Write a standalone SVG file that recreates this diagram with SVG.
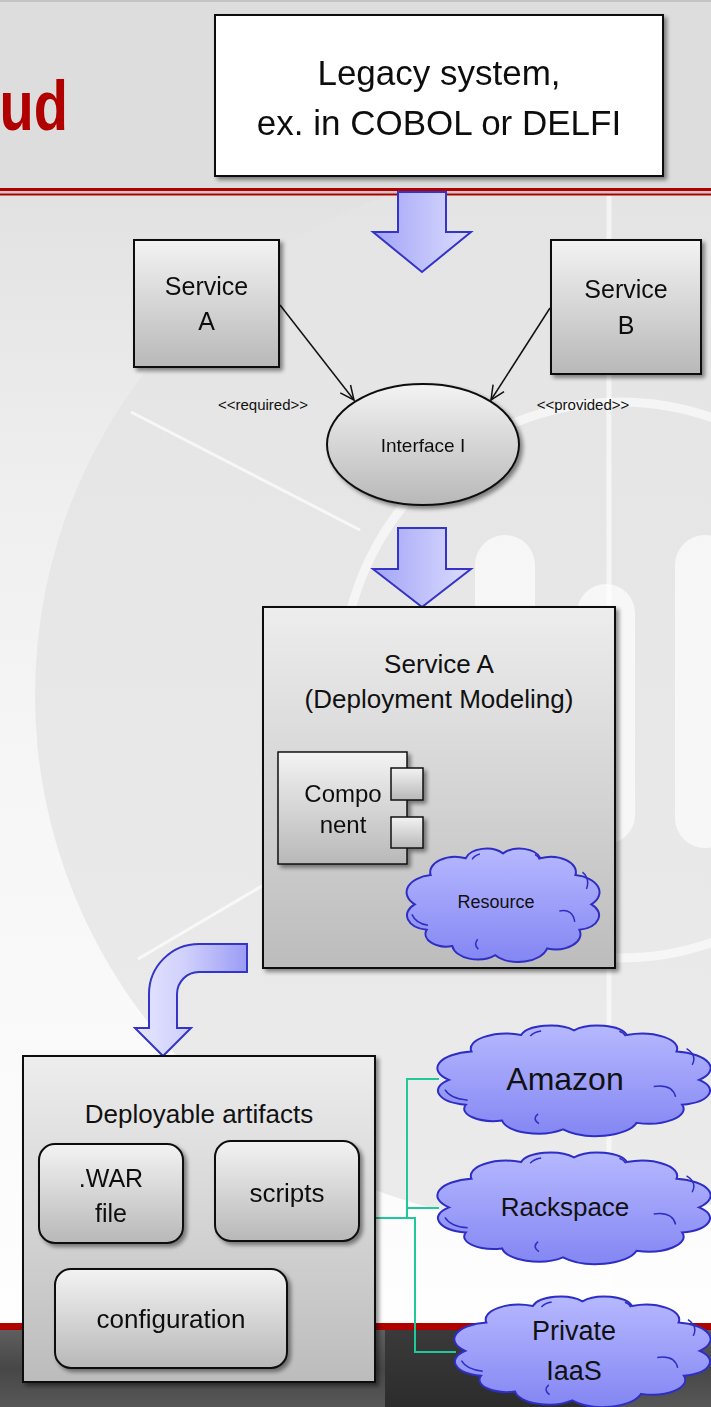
<svg xmlns="http://www.w3.org/2000/svg" width="711" height="1407" viewBox="0 0 711 1407">
  <defs>
    <style>
      .lbl { font-family: "Liberation Sans", Arial, sans-serif; fill: #111; text-anchor: middle; }
      .box { stroke: #111; stroke-width: 2; }
      .cloud { fill: url(#cloudGrad); stroke: #2e2ec4; stroke-width: 2; }
      .cloudInner { fill: none; stroke: #2e2ec4; stroke-width: 1.5; }
      .blockArrow { stroke: #3434c6; stroke-width: 2; stroke-linejoin: miter; }
      .wire { fill: none; stroke: #111; stroke-width: 1.5; }
      .teal { fill: none; stroke: #22c998; stroke-width: 2; }
      .mark { fill: #fff; opacity: 0.65; }
    </style>
    <linearGradient id="bgGrad" x1="0" y1="0" x2="0" y2="1">
      <stop offset="0" stop-color="#dcdcdc"/>
      <stop offset="0.14" stop-color="#e2e2e2"/>
      <stop offset="0.35" stop-color="#efefef"/>
      <stop offset="0.55" stop-color="#f6f6f6"/>
      <stop offset="1" stop-color="#ffffff"/>
    </linearGradient>
    <linearGradient id="ringGrad" x1="0" y1="0" x2="0" y2="1">
      <stop offset="0" stop-color="#e4e4e4"/>
      <stop offset="1" stop-color="#ebebeb"/>
    </linearGradient>
    <linearGradient id="boxGrad" x1="0" y1="0" x2="0" y2="1">
      <stop offset="0" stop-color="#f3f3f3"/>
      <stop offset="1" stop-color="#b8b8b8"/>
    </linearGradient>
    <linearGradient id="deployGrad" x1="0" y1="0" x2="0" y2="1">
      <stop offset="0" stop-color="#ededed"/>
      <stop offset="1" stop-color="#bcbcbc"/>
    </linearGradient>
    <linearGradient id="cloudGrad" x1="0" y1="0" x2="0" y2="1">
      <stop offset="0" stop-color="#b6b8ff"/>
      <stop offset="1" stop-color="#8486f3"/>
    </linearGradient>
    <linearGradient id="downGrad" x1="0" y1="0" x2="1" y2="0">
      <stop offset="0" stop-color="#a2a4f6"/>
      <stop offset="1" stop-color="#dcdcff"/>
    </linearGradient>
    <linearGradient id="bendGrad" x1="0" y1="0" x2="1" y2="0">
      <stop offset="0" stop-color="#e6e6ff"/>
      <stop offset="0.45" stop-color="#d0d0fc"/>
      <stop offset="1" stop-color="#9a9cf5"/>
    </linearGradient>
    <linearGradient id="footGrad" x1="0" y1="0" x2="0" y2="1">
      <stop offset="0" stop-color="#5e5e5e"/>
      <stop offset="0.5" stop-color="#474747"/>
      <stop offset="1" stop-color="#575757"/>
    </linearGradient>
    <linearGradient id="footDark" x1="0" y1="0" x2="0" y2="1">
      <stop offset="0" stop-color="#3a3a3a"/>
      <stop offset="1" stop-color="#2c2c2c"/>
    </linearGradient>
    <filter id="shadow" x="-10%" y="-10%" width="125%" height="125%">
      <feGaussianBlur in="SourceAlpha" stdDeviation="2"/>
      <feOffset dx="3" dy="3" result="off"/>
      <feComponentTransfer><feFuncA type="linear" slope="0.45"/></feComponentTransfer>
      <feMerge><feMergeNode/><feMergeNode in="SourceGraphic"/></feMerge>
    </filter>
    <marker id="openArrow" viewBox="0 0 16 16" refX="15" refY="8" markerWidth="16" markerHeight="16" orient="auto" markerUnits="userSpaceOnUse">
      <path d="M1,1.5 L15,8 L1,14.5" fill="none" stroke="#111" stroke-width="1.5"/>
    </marker>
    <!-- cloud outline in a unit box (extents roughly x 6.5..93.5, y 8..93) -->
    <path id="cloudShape" class="cloud" vector-effect="non-scaling-stroke" d="M10,50 A12.9,12.9 0 0 1 17.2,28.2 A11.4,11.4 0 0 1 33.1,15.6 A9.7,9.7 0 0 1 50,12 A9.7,9.7 0 0 1 66.9,15.6 A11.4,11.4 0 0 1 82.8,28.2 A12.9,12.9 0 0 1 90,50 A11.1,11.1 0 0 1 84.6,69 A11.3,11.3 0 0 1 70,82.9 A13.4,13.4 0 0 1 46.5,87.9 A11.6,11.6 0 0 1 27,81.1 A9.4,9.4 0 0 1 15.4,69 A11.1,11.1 0 0 1 10,50 Z"/>
    <path id="cloudCreases" class="cloudInner" vector-effect="non-scaling-stroke" d="M8.7,57.5 Q10.5,64.5 16,65.5 M75.5,55 Q81.5,53 82.5,63 M38.5,76 Q36.5,80 38.8,83.5 M36,16.5 Q37,13.5 39.5,12.5 M86,26 Q89.5,31 87.8,38.5 M64.5,12.8 Q66,14 66.5,16.5"/>
  </defs>

  <!-- backdrop -->
  <g id="backdrop">
    <rect x="0" y="0" width="711" height="1407" fill="url(#bgGrad)"/>
    <circle cx="565" cy="695" r="530" fill="url(#ringGrad)"/>
    <circle cx="620" cy="680" r="278" fill="none" stroke="#fff" stroke-width="9" opacity="0.6"/>
    <line x1="609" y1="196" x2="609" y2="1323" stroke="#fff" stroke-width="5" opacity="0.6"/>
    <line x1="131" y1="412" x2="360" y2="530" stroke="#fff" stroke-width="3" opacity="0.7"/>
    <line x1="138" y1="959" x2="330" y2="846" stroke="#fff" stroke-width="3" opacity="0.7"/>
    <rect class="mark" x="475" y="535" width="60" height="300" rx="30"/>
    <rect class="mark" x="577" y="584" width="58" height="260" rx="29"/>
    <rect class="mark" x="675" y="535" width="60" height="313" rx="30"/>
    <!-- title band -->
    <rect x="0" y="0" width="711" height="188" fill="#dddddd"/>
    <rect x="0" y="0" width="711" height="2" fill="#c4c4c4"/>
    <rect x="0" y="188" width="711" height="3" fill="#b00000"/>
    <rect x="0" y="191" width="711" height="2.5" fill="#c8c8c8"/>
    <rect x="0" y="193.5" width="711" height="2" fill="#b00000"/>
    <text transform="translate(68,130) scale(0.8,1)" text-anchor="end" font-family="Liberation Sans, Arial, sans-serif" font-weight="bold" font-size="70" fill="#b00000">ud</text>
    <!-- footer band -->
    <rect x="0" y="1323" width="711" height="7" fill="#b00000"/>
    <rect x="0" y="1330" width="711" height="77" fill="url(#footGrad)"/>
    <rect x="385" y="1330" width="225" height="77" fill="url(#footDark)"/>
  </g>

  <!-- connectors -->
  <g id="connectors">
    <path class="blockArrow" fill="url(#downGrad)" d="M398,192 L446,192 L446,232 L471,232 L422,272 L373,232 L398,232 Z"/>
    <path class="blockArrow" fill="url(#downGrad)" d="M398,528 L446,528 L446,569 L471,569 L422,607 L373,569 L398,569 Z"/>
    <path class="blockArrow" fill="url(#bendGrad)" d="M247,944 L199,944 A50,50 0 0 0 149,994 L149,1028 L135,1028 L163,1056 L191,1028 L177,1028 L177,994 A22,22 0 0 1 199,972 L247,972 Z"/>
    <line class="wire" x1="280" y1="305" x2="354" y2="400" marker-end="url(#openArrow)"/>
    <line class="wire" x1="550" y1="308" x2="491" y2="400" marker-end="url(#openArrow)"/>
    <path class="wire" stroke-dasharray="6,4" d="M343,865 L343,904 L405,904" marker-end="url(#openArrow)"/>
    <path class="teal" d="M376,1218 L415,1218 L415,1352 L456,1352"/>
    <path class="teal" d="M407,1218 L407,1079 L439,1079"/>
    <path class="teal" d="M407,1208 L439,1208"/>
  </g>

  <g id="legacy-system" filter="url(#shadow)">
    <rect x="215" y="15" width="448" height="161" fill="#fff" class="box"/>
    <text class="lbl" x="439" y="85" font-size="35">Legacy system,</text>
    <text class="lbl" x="439" y="135" font-size="35">ex. in COBOL or DELFI</text>
  </g>

  <g id="service-a" filter="url(#shadow)">
    <rect x="134" y="240" width="145" height="127" fill="url(#boxGrad)" class="box"/>
    <text class="lbl" x="206.5" y="295" font-size="25">Service</text>
    <text class="lbl" x="206.5" y="330" font-size="25">A</text>
  </g>

  <g id="service-b" filter="url(#shadow)">
    <rect x="551" y="240" width="150" height="134" fill="url(#boxGrad)" class="box"/>
    <text class="lbl" x="626" y="298" font-size="25">Service</text>
    <text class="lbl" x="626" y="334" font-size="25">B</text>
  </g>

  <g id="interface-i" filter="url(#shadow)">
    <ellipse cx="423" cy="444.5" rx="96" ry="60.5" fill="url(#boxGrad)" class="box"/>
    <text class="lbl" x="423" y="452" font-size="19">Interface I</text>
  </g>

  <g id="stereotype-labels">
    <text class="lbl" x="263" y="410" font-size="15">&lt;&lt;required&gt;&gt;</text>
    <text class="lbl" x="583" y="410" font-size="15">&lt;&lt;provided&gt;&gt;</text>
  </g>

  <g id="service-a-deployment">
    <rect x="263" y="607" width="352" height="361" fill="url(#deployGrad)" class="box" filter="url(#shadow)"/>
    <text class="lbl" x="439" y="673" font-size="26">Service A</text>
    <text class="lbl" x="439" y="708" font-size="26">(Deployment Modeling)</text>
  </g>

  <g id="component" filter="url(#shadow)">
    <rect x="278" y="752" width="129" height="112" fill="url(#boxGrad)" stroke="#111" stroke-width="1.5"/>
    <rect x="391" y="768" width="32" height="32" fill="url(#boxGrad)" stroke="#111" stroke-width="1.5"/>
    <rect x="391" y="817" width="32" height="31" fill="url(#boxGrad)" stroke="#111" stroke-width="1.5"/>
    <text class="lbl" x="343" y="802" font-size="24">Compo</text>
    <text class="lbl" x="343" y="833" font-size="24">nent</text>
  </g>

  <g id="resource">
    <g transform="translate(392.7,837.3) scale(2.207,1.341)">
      <use href="#cloudShape"/>
      <use href="#cloudCreases"/>
    </g>
    <text class="lbl" x="496" y="908" font-size="18">Resource</text>
  </g>

  <g id="deployable-artifacts">
    <rect x="23" y="1056" width="352" height="326" fill="url(#deployGrad)" class="box" filter="url(#shadow)"/>
    <text class="lbl" x="199" y="1123" font-size="26">Deployable artifacts</text>
  </g>

  <g id="war-file" filter="url(#shadow)">
    <rect x="39" y="1144" width="144" height="99" rx="16" fill="url(#boxGrad)" class="box"/>
    <text class="lbl" x="111" y="1187" font-size="25">.WAR</text>
    <text class="lbl" x="111" y="1222" font-size="25">file</text>
  </g>

  <g id="scripts" filter="url(#shadow)">
    <rect x="215" y="1141" width="144" height="100" rx="16" fill="url(#boxGrad)" class="box"/>
    <text class="lbl" x="287" y="1202" font-size="26">scripts</text>
  </g>

  <g id="configuration" filter="url(#shadow)">
    <rect x="55" y="1269" width="232" height="99" rx="16" fill="url(#boxGrad)" class="box"/>
    <text class="lbl" x="171" y="1328" font-size="26">configuration</text>
  </g>

  <g id="amazon">
    <g transform="translate(417.7,1014.6) scale(3.126,1.306)">
      <use href="#cloudShape"/>
      <use href="#cloudCreases"/>
    </g>
    <text class="lbl" x="565" y="1090" font-size="32">Amazon</text>
  </g>

  <g id="rackspace">
    <g transform="translate(417.7,1141.5) scale(3.126,1.318)">
      <use href="#cloudShape"/>
      <use href="#cloudCreases"/>
    </g>
    <text class="lbl" x="565" y="1216" font-size="26">Rackspace</text>
  </g>

  <g id="private-iaas">
    <g transform="translate(435.9,1285.6) scale(2.931,1.306)">
      <use href="#cloudShape"/>
      <use href="#cloudCreases"/>
    </g>
    <text class="lbl" x="574" y="1340" font-size="27">Private</text>
    <text class="lbl" x="574" y="1380" font-size="27">IaaS</text>
  </g>
</svg>
